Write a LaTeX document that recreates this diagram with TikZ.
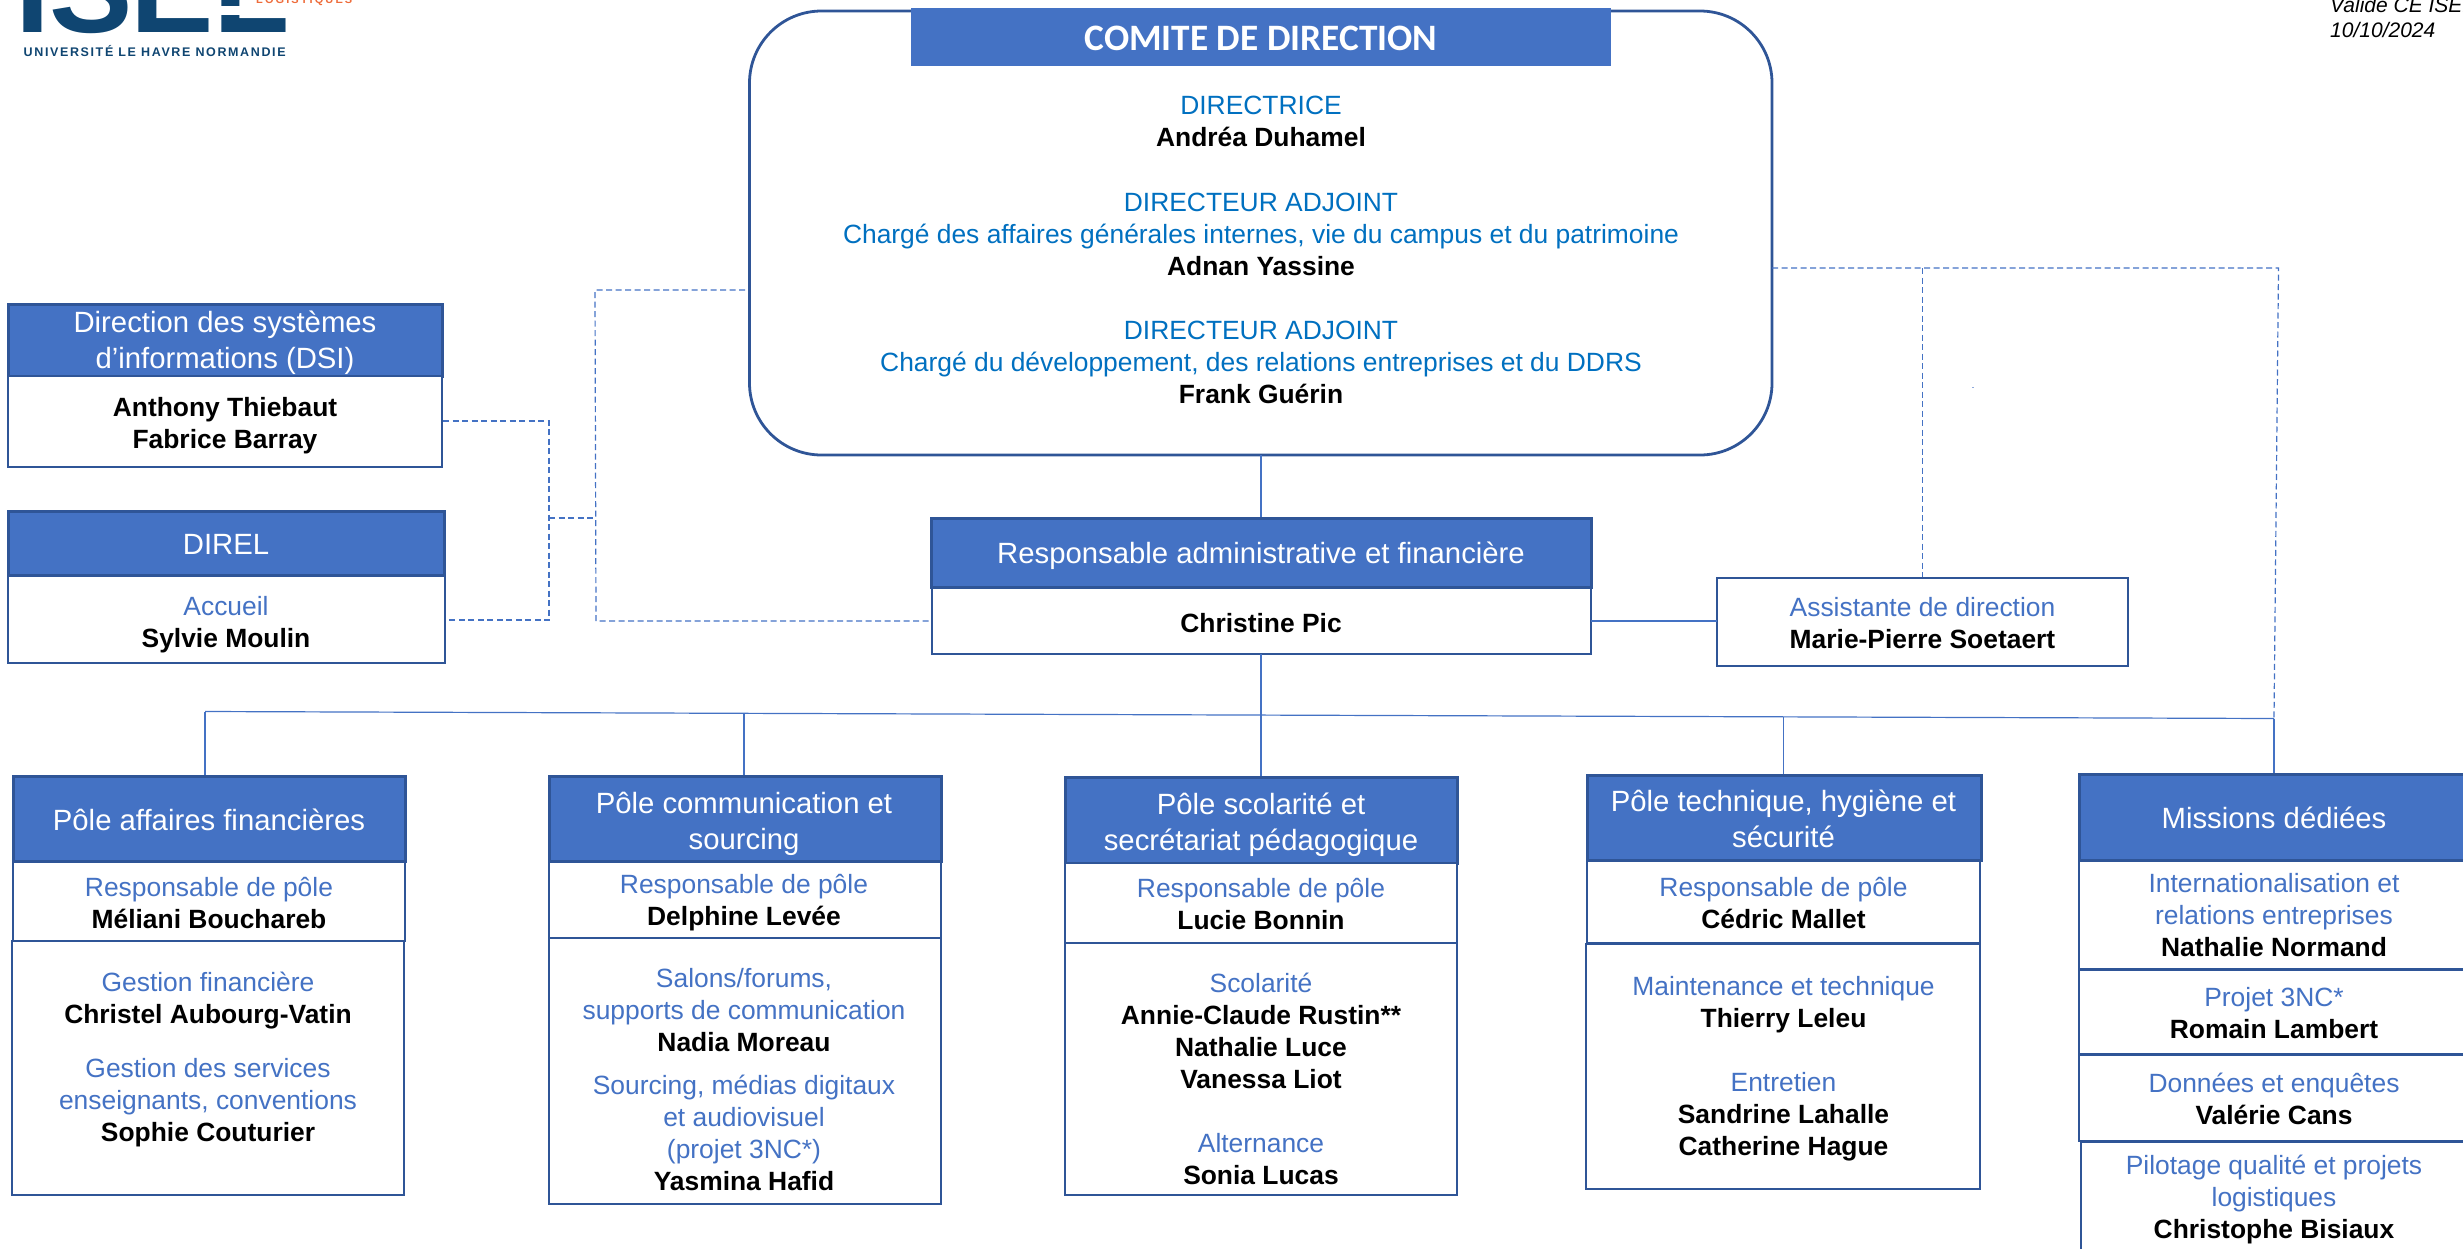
\documentclass[tikz,border=0pt]{standalone}
\usepackage{fontspec}
\setmainfont{Liberation Sans}
\newfontfamily\carl{Carlito}
\definecolor{hdr}{HTML}{4472C4}
\definecolor{edge}{HTML}{2F5597}
\definecolor{lbl}{HTML}{4472C4}
\definecolor{cdr}{HTML}{0070C0}
\definecolor{logob}{HTML}{0F4571}
\definecolor{logoo}{HTML}{EE6C3B}
\newcommand{\stt}{\rule{0pt}{25pt}\rule[-7pt]{0pt}{0pt}}
\newcommand{\hstt}{\rule{0pt}{27pt}\rule[-9pt]{0pt}{0pt}}
\newcommand{\role}[1]{\stt\textcolor{lbl}{#1}}
\newcommand{\who}[1]{\stt\textbf{#1}}
\newcommand{\crole}[1]{\stt\textcolor{cdr}{#1}}
\newcommand{\hl}[1]{\hstt #1}
\tikzset{
  hbox/.style={draw=edge,line width=3pt,fill=hdr},
  wbox/.style={draw=edge,line width=2.9pt,fill=white},
  link/.style={draw=hdr,line width=1.2pt},
  dlink/.style={draw=hdr,line width=1.2pt,dash pattern=on 6pt off 3.5pt},
  htext/.style={text=white,font=\fontsize{29.3}{36}\selectfont,align=center,inner sep=0pt,yshift=-1.5pt},
  btext/.style={font=\fontsize{26.4}{32}\selectfont,align=center,inner sep=0pt},
  ltr/.style={font=\bfseries\fontsize{125}{125}\selectfont,text=logob,anchor=base west,inner sep=0pt},
  vnote/.style={inner sep=0pt,anchor=base west,font=\itshape\fontsize{21}{24}\selectfont},
}
\begin{document}
\begin{tikzpicture}[x=1pt,y=-1pt]
\useasboundingbox (0,0) rectangle (2463,1248);
\clip (0,0) rectangle (2463,1248);
% logo
\node[ltr] (lI) at (15.5,32) {I};
\node[ltr] (lS) at (49,32) {S};
\node[ltr] (lE) at (130,32) {E};
\node[ltr] (lL) at (213,32) {L};
\fill[white] (220,6) rectangle (243,15);
\node[inner sep=0pt,anchor=base west,text=logoo,font=\bfseries\fontsize{11}{12}\selectfont] (lg) at (256,3.5) {\addfontfeature{LetterSpace=19}LOGISTIQUES};
\node[inner sep=0pt,anchor=west,text=logob,font=\bfseries\fontsize{12.5}{15}\selectfont] (uni) at (23.5,51) {\addfontfeature{LetterSpace=13}UNIVERSITÉ LE HAVRE NORMANDIE};
% validation note
\node[vnote] (v1) at (2330,12) {Validé CE ISEL};
\node[vnote] (v2) at (2330,37) {10/10/2024};
% committee
\draw[draw=edge,line width=2.8pt,rounded corners=72pt,fill=white] (749.5,11) rectangle (1772,455);
\coordinate (cL) at (745,290);
\coordinate (cR) at (1772,268);
\coordinate (cB) at (1261,455);
\fill[hdr] (911,8) rectangle (1611,66);
\node[text=white,inner sep=0pt,font=\carl\bfseries\fontsize{37.3}{40}\selectfont] (cdt) at (1261,38) {COMITE DE DIRECTION};
\node[btext] (c1) at (1261,121.5) {\crole{DIRECTRICE}\\\who{Andréa Duhamel}};
\node[btext] (c3) at (1261,234) {\crole{DIRECTEUR ADJOINT}\\\crole{Chargé des affaires générales internes, vie du campus et du patrimoine}\\\who{Adnan Yassine}};
\node[btext] (c6) at (1261,362) {\crole{DIRECTEUR ADJOINT}\\\crole{Chargé du développement, des relations entreprises et du DDRS}\\\who{Frank Guérin}};
% DSI
\draw[hbox] (8,304) rectangle (442,376);
\draw[wbox] (8,376) rectangle (442,467);
\node[htext] (dsiT) at (225,340) {\hl{Direction des systèmes}\\\hl{d’informations (DSI)}};
\node[btext] (dsiB) at (225,423) {\who{Anthony Thiebaut}\\\who{Fabrice Barray}};
\coordinate (dsiR) at (443,421);
% DIREL
\draw[hbox] (8,511) rectangle (444,575);
\draw[wbox] (8,576) rectangle (445,663);
\node[htext] (dirT) at (226,544) {\hl{DIREL}};
\node[btext] (dirB) at (226,622) {\role{Accueil}\\\who{Sylvie Moulin}};
\coordinate (dirR) at (446,620);
% responsable
\draw[hbox] (931,518) rectangle (1591,587);
\draw[wbox] (932,588) rectangle (1591,654);
\node[htext] (resT) at (1261,553) {\hl{Responsable administrative et financière}};
\node[btext] (resB) at (1261,623) {\who{Christine Pic}};
\coordinate (resT1) at (1261,517);
\coordinate (resB1) at (1261,654);
\coordinate (resL) at (931,621);
\coordinate (resR) at (1591,621);
% assistante
\draw[wbox] (1717,578) rectangle (2128,666);
\node[btext] (as) at (1922.5,623) {\role{Assistante de direction}\\\who{Marie-Pierre Soetaert}};
\coordinate (asL) at (1717,621);
\coordinate (asT) at (1922.5,577);
% pole 1
\draw[hbox] (13,776) rectangle (405,861);
\draw[wbox] (13,862) rectangle (405,941);
\draw[wbox] (12,941) rectangle (404,1195);
\node[htext] (p1T) at (209,820) {\hl{Pôle affaires financières}};
\node[btext] (p1a) at (209,903) {\role{Responsable de pôle}\\\who{Méliani Bouchareb}};
\node[btext] (p1b) at (208,998) {\role{Gestion financière}\\\who{Christel Aubourg-Vatin}};
\node[btext] (p1c) at (208,1100.5) {\role{Gestion des services}\\\role{enseignants, conventions}\\\who{Sophie Couturier}};
% pole 2
\draw[hbox] (549,776) rectangle (941,861);
\draw[wbox] (549,862) rectangle (941,938);
\draw[wbox] (549,938) rectangle (941,1204);
\node[htext] (p2T) at (744,820.5) {\hl{Pôle communication et}\\\hl{sourcing}};
\node[btext] (p2a) at (744,900) {\role{Responsable de pôle}\\\who{Delphine Levée}};
\node[btext] (p2b) at (744,1010) {\role{Salons/forums,}\\\role{supports de communication}\\\who{Nadia Moreau}};
\node[btext] (p2c) at (744,1133.5) {\role{Sourcing, médias digitaux}\\\role{et audiovisuel}\\\role{(projet 3NC*)}\\\who{Yasmina Hafid}};
% pole 3
\draw[hbox] (1065,777) rectangle (1457,863);
\draw[wbox] (1065,863) rectangle (1457,943);
\draw[wbox] (1065,943) rectangle (1457,1195);
\node[htext] (p3T) at (1261,822) {\hl{Pôle scolarité et}\\\hl{secrétariat pédagogique}};
\node[btext] (p3a) at (1261,904) {\role{Responsable de pôle}\\\who{Lucie Bonnin}};
\node[btext] (p3b) at (1261,1031) {\role{Scolarité}\\\who{Annie-Claude Rustin**}\\\who{Nathalie Luce}\\\who{Vanessa Liot}};
\node[btext] (p3c) at (1261,1159) {\role{Alternance}\\\who{Sonia Lucas}};
% pole 4
\draw[hbox] (1587,775) rectangle (1981,860);
\draw[wbox] (1587,861) rectangle (1980,943);
\draw[wbox] (1586,944) rectangle (1980,1189);
\node[htext] (p4T) at (1783.5,819) {\hl{Pôle technique, hygiène et}\\\hl{sécurité}};
\node[btext] (p4a) at (1783.5,903) {\role{Responsable de pôle}\\\who{Cédric Mallet}};
\node[btext] (p4b) at (1783.5,1002) {\role{Maintenance et technique}\\\who{Thierry Leleu}};
\node[btext] (p4c) at (1783.5,1114.5) {\role{Entretien}\\\who{Sandrine Lahalle}\\\who{Catherine Hague}};
% missions
\draw[hbox] (2079,774) rectangle (2475,860);
\draw[wbox] (2079,861) rectangle (2475,969);
\draw[wbox] (2079,970) rectangle (2475,1054);
\draw[wbox] (2079,1055) rectangle (2475,1141);
\draw[wbox] (2081,1142) rectangle (2475,1270);
\node[htext] (p5T) at (2274,818) {\hl{Missions dédiées}};
\node[btext] (p5a) at (2274,915.5) {\role{Internationalisation et}\\\role{relations entreprises}\\\who{Nathalie Normand}};
\node[btext] (p5b) at (2274,1013) {\role{Projet 3NC*}\\\who{Romain Lambert}};
\node[btext] (p5c) at (2274,1099) {\role{Données et enquêtes}\\\who{Valérie Cans}};
\node[btext] (p5d) at (2274,1197) {\role{Pilotage qualité et projets}\\\role{logistiques}\\\who{Christophe Bisiaux}};
% horizontal bus
\coordinate (busL) at (205,711.5);
\coordinate (busR) at (2274,718.5);
\coordinate (bus2) at (744,714);
\coordinate (bus4) at (1783.5,716.7);
\draw[link] (busL) -- (busR);
\draw[link] (busL) -- (205,775);
\draw[link] (bus2) -- (744,775);
\draw[link] (resB1) -- (1261,776);
\draw[link] (bus4) -- (1783.5,774);
\draw[link] (busR) -- (2274,773);
\draw[link] (cB) -- (resT1);
\draw[link] (resR) -- (asL);
% dashed
\coordinate (dA) at (549,518);
\coordinate (dB) at (596,518);
\draw[dlink] (dsiR) -- (549,421) -- (549,620) -- (dirR);
\draw[dlink] (dA) -- (dB);
\draw[dlink] (cL) -- (595,290) -- (596,621) -- (resL);
\draw[dlink] (cR) -- (2278.5,268) -- (busR);
\draw[dlink] (1922.5,268) -- (asT);
\fill[hdr!60] (1971.5,386.5) rectangle (1974,387.5);
\end{tikzpicture}
\end{document}
